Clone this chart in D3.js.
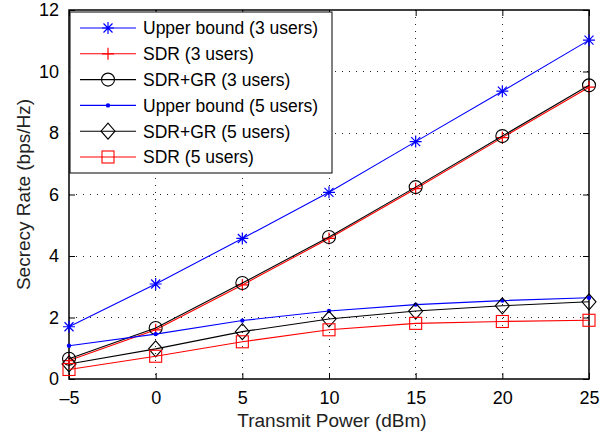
<!DOCTYPE html>
<html>
<head>
<meta charset="utf-8">
<script src="https://cdn.jsdelivr.net/npm/d3@7"></script>
<style>
  body { margin: 0; background: #fff; }
  text { font-family: "Liberation Sans", Arial, sans-serif; }
</style>
</head>
<body>
<div id="chart"></div>
<script>
// data
var powers = [-5, 0, 5, 10, 15, 20, 25];
var ub3 = [1.70, 3.09, 4.57, 6.07, 7.72, 9.36, 11.02];
var sdr3 = [0.60, 1.60, 3.06, 4.57, 6.19, 7.85, 9.49];
var sdrgr3 = [0.66, 1.66, 3.12, 4.62, 6.24, 7.90, 9.55];
var ub5 = [1.08, 1.46, 1.90, 2.21, 2.42, 2.55, 2.64];
var sdrgr5 = [0.49, 0.98, 1.54, 1.95, 2.21, 2.38, 2.51];
var sdr5 = [0.31, 0.74, 1.21, 1.60, 1.81, 1.87, 1.91];
var xTicks = [-5, 0, 5, 10, 15, 20, 25];
var yTicks = [0, 2, 4, 6, 8, 10, 12];

var series = [
  { name: "Upper bound (3 users)", values: ub3, color: "#0000ff", marker: "star" },
  { name: "SDR (3 users)", values: sdr3, color: "#ff0000", marker: "plus" },
  { name: "SDR+GR (3 users)", values: sdrgr3, color: "#000000", marker: "circle" },
  { name: "Upper bound (5 users)", values: ub5, color: "#0000ff", marker: "dot" },
  { name: "SDR+GR (5 users)", values: sdrgr5, color: "#000000", marker: "diamond" },
  { name: "SDR (5 users)", values: sdr5, color: "#ff0000", marker: "square" }
];

var W = 616, H = 437;
var margin = { top: 10, right: 27, bottom: 58, left: 69 },
    width = W - margin.left - margin.right,
    height = H - margin.top - margin.bottom;

var svg = d3.select("#chart").append("svg")
  .attr("width", W)
  .attr("height", H);

var g = svg.append("g")
  .attr("transform", "translate(" + margin.left + "," + margin.top + ")");

var x = d3.scaleLinear().domain([-5, 25]).range([0, width]);
var y = d3.scaleLinear().domain([0, 12]).range([height, 0]);

// dotted grid
g.selectAll(".gx").data(xTicks.slice(1, -1)).enter().append("line")
  .attr("x1", function(d) { return x(d); }).attr("x2", function(d) { return x(d); })
  .attr("y1", 0).attr("y2", height)
  .attr("stroke", "#222").attr("stroke-width", 1).attr("stroke-dasharray", "1,6")
  .attr("shape-rendering", "crispEdges");
g.selectAll(".gy").data(yTicks.slice(1, -1)).enter().append("line")
  .attr("y1", function(d) { return y(d); }).attr("y2", function(d) { return y(d); })
  .attr("x1", 0).attr("x2", width)
  .attr("stroke", "#222").attr("stroke-width", 1).attr("stroke-dasharray", "1,6")
  .attr("shape-rendering", "crispEdges");

// axes, ticks pointing inwards, mirrored on top/right
function styleAxis(sel) {
  sel.select(".domain").remove();
  sel.selectAll("line").attr("stroke", "#000");
  sel.selectAll("text").attr("font-size", 18).attr("fill", "#000");
}
g.append("g").attr("transform", "translate(0," + height + ")")
  .call(d3.axisBottom(x).tickValues(xTicks).tickSizeInner(-6).tickSizeOuter(0).tickPadding(12)
    .tickFormat(function(d) { return d < 0 ? "\u2013" + Math.abs(d) : d; }))
  .call(styleAxis);
g.append("g")
  .call(d3.axisLeft(y).tickValues(yTicks).tickSizeInner(-6).tickSizeOuter(0).tickPadding(10))
  .call(styleAxis);
g.append("g")
  .call(d3.axisTop(x).tickValues(xTicks).tickSizeInner(-6).tickSizeOuter(0).tickFormat(""))
  .call(styleAxis);
g.append("g").attr("transform", "translate(" + width + ",0)")
  .call(d3.axisRight(y).tickValues(yTicks).tickSizeInner(-6).tickSizeOuter(0).tickFormat(""))
  .call(styleAxis);

g.append("rect")
  .attr("x", 0).attr("y", 0).attr("width", width).attr("height", height)
  .attr("fill", "none").attr("stroke", "#000").attr("stroke-width", 1.5);

// markers
function drawMarker(sel, type, color) {
  if (type === "star") {
    sel.append("path")
      .attr("d", "M-6,0H6M0,-6V6M-4.5,-4.5L4.5,4.5M-4.5,4.5L4.5,-4.5")
      .attr("stroke", color).attr("fill", "none").attr("stroke-width", 1.2);
  } else if (type === "plus") {
    sel.append("path").attr("d", "M-6,0H6M0,-6V6")
      .attr("stroke", color).attr("fill", "none").attr("stroke-width", 1.2);
  } else if (type === "circle") {
    sel.append("circle").attr("r", 6.5)
      .attr("stroke", color).attr("fill", "none").attr("stroke-width", 1.1);
  } else if (type === "dot") {
    sel.append("circle").attr("r", 2.2).attr("fill", color);
  } else if (type === "diamond") {
    sel.append("path").attr("d", "M0,-8L7,0L0,8L-7,0Z")
      .attr("stroke", color).attr("fill", "none").attr("stroke-width", 1.1);
  } else if (type === "square") {
    sel.append("rect").attr("x", -6).attr("y", -6).attr("width", 12).attr("height", 12)
      .attr("stroke", color).attr("fill", "none").attr("stroke-width", 1.1);
  }
}

var line = d3.line()
  .x(function(d, i) { return x(powers[i]); })
  .y(function(d) { return y(d); });

series.forEach(function(s) {
  g.append("path").datum(s.values)
    .attr("d", line)
    .attr("fill", "none").attr("stroke", s.color).attr("stroke-width", 1.1);
  s.values.forEach(function(v, i) {
    var m = g.append("g").attr("transform", "translate(" + x(powers[i]) + "," + y(v) + ")");
    drawMarker(m, s.marker, s.color);
  });
});

// legend
var lg = svg.append("g").attr("transform", "translate(70,12)");
lg.append("rect").attr("x", 0).attr("y", 0).attr("width", 262).attr("height", 161)
  .attr("fill", "#fff").attr("stroke", "#000").attr("stroke-width", 1);
series.forEach(function(s, i) {
  var cy = 16 + i * 25.8;
  lg.append("line").attr("x1", 10).attr("x2", 66).attr("y1", cy).attr("y2", cy)
    .attr("stroke", s.color).attr("stroke-width", 1.1);
  drawMarker(lg.append("g").attr("transform", "translate(38," + cy + ")"), s.marker, s.color);
  lg.append("text").attr("x", 73).attr("y", cy).attr("dy", "0.36em")
    .attr("font-size", 17.5).text(s.name);
});

// axis titles
svg.append("text")
  .attr("x", margin.left + width / 2 + 3).attr("y", 427)
  .attr("text-anchor", "middle").attr("font-size", 19).attr("fill", "#222")
  .text("Transmit Power (dBm)");
svg.append("text")
  .attr("transform", "translate(30," + (margin.top + height / 2) + ") rotate(-90)")
  .attr("text-anchor", "middle").attr("font-size", 19).attr("fill", "#222")
  .text("Secrecy Rate (bps/Hz)");
</script>
</body>
</html>
